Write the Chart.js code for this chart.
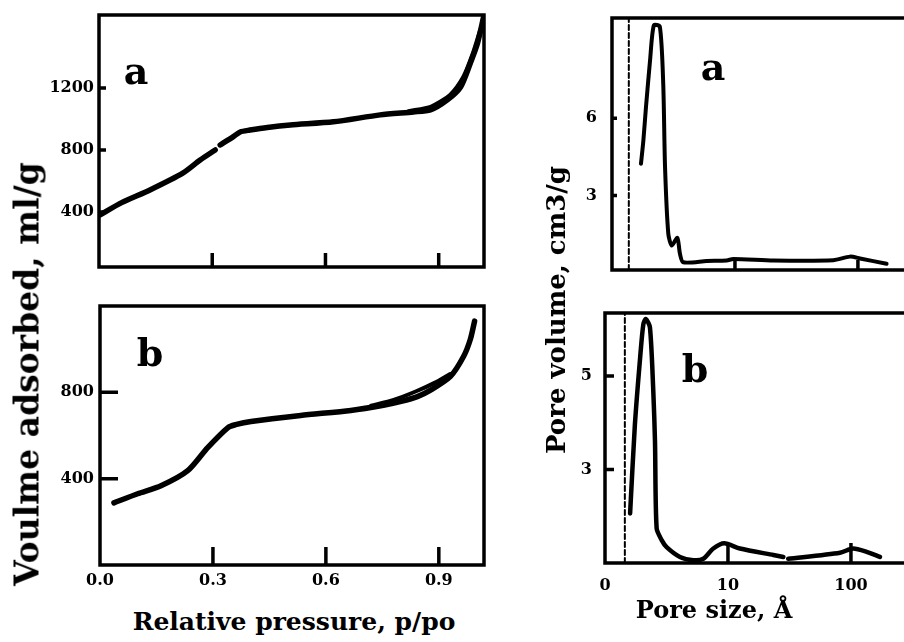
<!DOCTYPE html>
<html>
<head>
<meta charset="utf-8">
<script src="https://cdn.jsdelivr.net/npm/chart.js@4.4.1/dist/chart.umd.min.js"></script>
<style>
body { margin: 0; background: #fff; }
#wrap { position: relative; width: 904px; height: 642px; overflow: hidden; background: #fff;
        font-family: 'DejaVu Serif', serif; font-weight: bold; color: #000; }
canvas { position: absolute; }
.t { position: absolute; white-space: nowrap; transform: translate(-50%, -50%); }
.v { transform: translate(-50%, -50%) rotate(-90deg); }
.lbl { position: absolute; font-size: 38px; transform: translate(-50%, -50%); }
</style>
</head>
<body>
<div id="wrap">
  <canvas id="isoA" width="490" height="290" style="left:0;top:0"></canvas>
  <canvas id="isoB" width="490" height="310" style="left:0;top:290px"></canvas>
  <canvas id="psdA" width="364" height="290" style="left:540px;top:0"></canvas>
  <canvas id="psdB" width="364" height="310" style="left:540px;top:290px"></canvas>

  <div class="t v" style="left:27px;top:374px;font-size:33px">Voulme adsorbed, ml/g</div>
  <div class="t" style="left:294px;top:621px;font-size:25px">Relative pressure, p/po</div>
  <div class="t v" style="left:556px;top:310px;font-size:26px">Pore volume, cm3/g</div>
  <div class="t" style="left:714px;top:609px;font-size:24px">Pore size, Å</div>

  <div class="lbl" style="left:136px;top:70px">a</div>
  <div class="lbl" style="left:150px;top:352px">b</div>
  <div class="lbl" style="left:713px;top:66px">a</div>
  <div class="lbl" style="left:695px;top:368px">b</div>
</div>

<script>
// ----- Isotherms (relative pressure vs volume adsorbed) -----
const isoA_p = [0.003, 0.06, 0.135, 0.223, 0.268, 0.308, 0.314, 0.321, 0.355, 0.374, 0.40, 0.446, 0.507, 0.621, 0.745, 0.833, 0.878, 0.923, 0.958, 0.984, 1.003, 1.019];
const isoA_v = [381, 460, 542, 652, 735, 800, null, 832, 884, 916, 928, 945, 961, 981, 1026, 1045, 1058, 1123, 1206, 1361, 1490, 1658];
const isoA_desP = [0.82, 0.88, 0.93, 0.965, 0.99, 1.01];
const isoA_desV = [1050, 1080, 1155, 1270, 1420, 1575];

const isoB_p = [0.037, 0.10, 0.162, 0.233, 0.286, 0.34, 0.36, 0.401, 0.533, 0.666, 0.753, 0.80, 0.843, 0.878, 0.931, 0.966, 0.984, 0.995];
const isoB_v = [288, 330, 367, 437, 544, 637, 650, 665, 693, 716, 740, 758, 780, 810, 874, 967, 1047, 1130];
const isoB_desP = [0.72, 0.78, 0.84, 0.89, 0.93];
const isoB_desV = [738, 765, 805, 845, 885];

const pressureTicks = [0, 0.3, 0.6, 0.9];
const isoA_yTicks = [400, 800, 1200];
const isoB_yTicks = [400, 800];

// ----- Pore size distributions (pore size, A vs pore volume) -----
const psdA_size = [1.72, 1.80, 1.89, 2.04, 2.19, 2.45, 2.61, 2.70, 2.87, 3.06, 3.40, 3.57, 3.80, 5.89, 8.56, 9.69, 20.5, 63, 86, 104, 171];
const psdA_vol  = [4.23, 5.14, 6.44, 8.26, 9.62, 9.56, 7.35, 4.10, 1.51, 1.05, 1.35, 0.73, 0.40, 0.45, 0.47, 0.53, 0.47, 0.48, 0.62, 0.55, 0.34];
const psdB_size = [1.60, 1.75, 1.93, 2.05, 2.15, 2.32, 2.47, 2.55, 2.63, 2.89, 3.17, 4.07, 5.23, 6.30, 7.60, 9.33, 12.5, 23.4, 28.2, 29.5, 30.9, 81.4, 104, 134, 172];
const psdB_vol  = [2.06, 3.96, 5.39, 6.11, 6.22, 6.04, 4.68, 3.60, 1.74, 1.49, 1.34, 1.13, 1.06, 1.09, 1.31, 1.42, 1.31, 1.17, 1.13, null, 1.09, 1.22, 1.31, 1.24, 1.13];
const psdA_cutoff = 1.37;   // dashed line
const psdB_cutoff = 1.45;

const sizeTicks = [1, 10, 100];
const sizeTickLabels = ['0', '10', '100'];
const psdA_yTicks = [3, 6];
const psdB_yTicks = [3, 5];

const tickFont = { family: 'DejaVu Serif', weight: 'bold', size: 16 };

function pts(xs, ys) {
    return xs.map((x, i) => ({ x: x, y: ys[i] }));
}

// frame + inward tick marks
const framePlugin = {
    id: 'frame',
    afterDatasetsDraw(chart, args, opts) {
        const { ctx, chartArea: a, scales } = chart;
        ctx.save();
        ctx.strokeStyle = '#000';
        ctx.lineWidth = 3.5;
        ctx.lineCap = 'square';
        ctx.beginPath();
        if (opts.right) {
            ctx.rect(a.left, a.top, a.right - a.left, a.bottom - a.top);
        } else {
            ctx.moveTo(a.right + 4, a.top);
            ctx.lineTo(a.left, a.top);
            ctx.lineTo(a.left, a.bottom);
            ctx.lineTo(a.right + 4, a.bottom);
        }
        ctx.stroke();
        ctx.lineCap = 'butt';
        ctx.beginPath();
        scales.x.ticks.forEach(t => {
            const px = scales.x.getPixelForValue(t.value);
            if (px <= a.left + 2) return;
            ctx.moveTo(px, a.bottom);
            ctx.lineTo(px, a.bottom - opts.xLen);
        });
        scales.y.ticks.forEach(t => {
            const py = scales.y.getPixelForValue(t.value);
            ctx.moveTo(a.left, py);
            ctx.lineTo(a.left + opts.yLen, py);
        });
        ctx.stroke();
        ctx.restore();
    }
};

// fixed axis sizes, no label overhang padding
function fixSize(s, w, h) {
    if (w !== undefined) s.width = w;
    if (h !== undefined) s.height = h;
    s.paddingTop = s.paddingBottom = s.paddingLeft = s.paddingRight = 0;
}

function makePanel(id, p) {
    const ctx = document.getElementById(id).getContext('2d');
    return new Chart(ctx, {
        type: 'line',
        data: { datasets: p.datasets },
        options: {
            responsive: false,
            animation: false,
            events: [],
            layout: { padding: { top: p.padTop, right: p.padRight, left: 0, bottom: 0 } },
            plugins: {
                legend: { display: false },
                tooltip: { enabled: false },
                frame: { right: p.rightBorder, xLen: p.xLen, yLen: p.yLen }
            },
            elements: { point: { radius: 0 }, line: { borderColor: '#000', tension: 0.25, borderCapStyle: 'round', borderJoinStyle: 'round' } },
            scales: {
                x: {
                    type: p.xType, min: p.xMin, max: p.xMax,
                    grid: { display: false, drawTicks: false }, border: { display: false },
                    afterBuildTicks: s => { s.ticks = p.xTicks.map(v => ({ value: v })); },
                    afterFit: s => fixSize(s, undefined, p.xHeight),
                    ticks: {
                        display: p.xLabels, color: '#000', font: tickFont, padding: p.xPad,
                        maxRotation: 0, autoSkip: false,
                        callback: p.xFormat
                    }
                },
                y: {
                    min: p.yMin, max: p.yMax,
                    grid: { display: false, drawTicks: false }, border: { display: false },
                    afterBuildTicks: s => { s.ticks = p.yTicks.map(v => ({ value: v })); },
                    afterFit: s => fixSize(s, p.yWidth, undefined),
                    ticks: { color: '#000', font: tickFont, padding: p.yPad, callback: v => String(v) }
                }
            }
        },
        plugins: [framePlugin]
    });
}

const pressureFmt = (v, i) => pressureTicks[i].toFixed(1);
const sizeFmt = (v, i) => sizeTickLabels[i];

makePanel('isoA', {
    datasets: [
        { data: pts(isoA_p, isoA_v), borderWidth: 5.5, spanGaps: false },
        { data: pts(isoA_desP, isoA_desV), borderWidth: 4 }
    ],
    xType: 'linear', xMin: 0, xMax: 1.02, xTicks: pressureTicks, xLabels: false, xFormat: pressureFmt,
    yMin: 45, yMax: 1670, yTicks: isoA_yTicks,
    padTop: 15, padRight: 6, xHeight: 23, yWidth: 99, xPad: 6, yPad: 5,
    rightBorder: true, xLen: 14, yLen: 7
});

makePanel('isoB', {
    datasets: [
        { data: pts(isoB_p, isoB_v), borderWidth: 5.5 },
        { data: pts(isoB_desP, isoB_desV), borderWidth: 4 }
    ],
    xType: 'linear', xMin: 0, xMax: 1.02, xTicks: pressureTicks, xLabels: true, xFormat: pressureFmt,
    yMin: 0, yMax: 1200, yTicks: isoB_yTicks,
    padTop: 16, padRight: 6, xHeight: 35, yWidth: 100, xPad: 6, yPad: 6,
    rightBorder: true, xLen: 18, yLen: 18
});

makePanel('psdA', {
    datasets: [
        { data: pts(psdA_size, psdA_vol), borderWidth: 4 },
        { data: [{ x: psdA_cutoff, y: 0.1 }, { x: psdA_cutoff, y: 9.9 }], borderWidth: 2, borderDash: [5, 3], tension: 0 }
    ],
    xType: 'logarithmic', xMin: 1, xMax: 237, xTicks: sizeTicks, xLabels: false, xFormat: sizeFmt,
    yMin: 0.1, yMax: 9.9, yTicks: psdA_yTicks,
    padTop: 18, padRight: 0, xHeight: 20, yWidth: 72, xPad: 6, yPad: 15,
    rightBorder: false, xLen: 10, yLen: 5
});

makePanel('psdB', {
    datasets: [
        { data: pts(psdB_size, psdB_vol), borderWidth: 4.5, spanGaps: false },
        { data: [{ x: psdB_cutoff, y: 1 }, { x: psdB_cutoff, y: 6.35 }], borderWidth: 2, borderDash: [5, 3], tension: 0 }
    ],
    xType: 'logarithmic', xMin: 1, xMax: 270, xTicks: sizeTicks, xLabels: true, xFormat: sizeFmt,
    yMin: 1, yMax: 6.35, yTicks: psdB_yTicks,
    padTop: 23, padRight: 0, xHeight: 37, yWidth: 65, xPad: 13, yPad: 13,
    rightBorder: false, xLen: 20, yLen: 9
});
</script>
</body>
</html>
